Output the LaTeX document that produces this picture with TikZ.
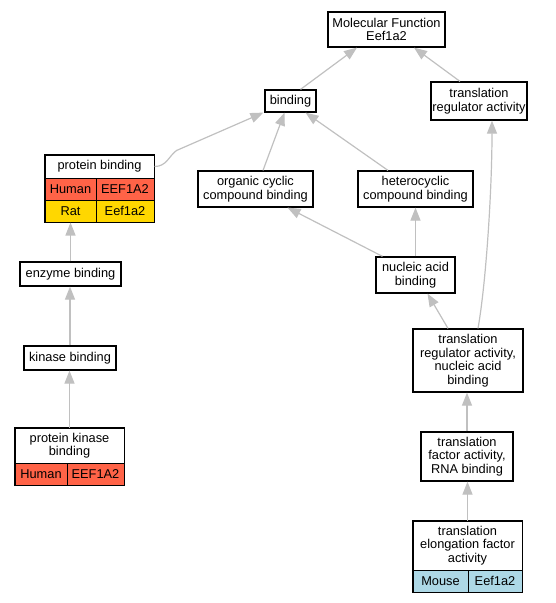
\documentclass[tikz,border=0pt]{standalone}
\usepackage{fontspec}
\setmainfont{Liberation Sans}
\usetikzlibrary{arrows.meta}
\definecolor{edgegray}{RGB}{192,192,192}
\definecolor{human}{RGB}{255,99,71}
\definecolor{rat}{RGB}{255,215,0}
\definecolor{mouse}{RGB}{173,216,230}
\tikzset{
  gobox/.style={draw=black, line width=1.2pt, fill=white, inner sep=0pt, align=center,
    font=\fontsize{12.8}{13.6}\selectfont},
  cell/.style={draw=black, line width=1pt, inner sep=0pt, align=center,
    font=\fontsize{12.8}{13.6}\selectfont},
  edge/.style={draw=edgegray, line width=1.2pt,
    -{Triangle[length=13pt,width=10pt,fill=edgegray]}}
}
\begin{document}
\begin{tikzpicture}[x=1pt,y=-1pt]
\useasboundingbox (0,0) rectangle (555,603);
% plain boxes
\node[gobox, minimum width=117pt, minimum height=35pt] (mf) at (386.5,29.5) {Molecular Function\\Eef1a2};
\node[gobox, minimum width=51pt, minimum height=22pt] (bind) at (290.5,101) {binding};
\node[gobox, minimum width=96pt, minimum height=38pt] (tra) at (479,101) {translation\\regulator activity};
\node[gobox, minimum width=115pt, minimum height=36pt] (ocb) at (255.5,189) {organic cyclic\\compound binding};
\node[gobox, minimum width=115pt, minimum height=36pt] (hcb) at (415.5,189) {heterocyclic\\compound binding};
\node[gobox, minimum width=101pt, minimum height=24pt] (enz) at (70.5,274) {enzyme binding};
\node[gobox, minimum width=79pt, minimum height=36pt] (nab) at (415.5,275) {nucleic acid\\binding};
\node[gobox, minimum width=92pt, minimum height=24pt] (kin) at (70,358) {kinase binding};
\node[gobox, minimum width=110pt, minimum height=63pt] (trnab) at (468,360.5) {translation\\regulator activity,\\nucleic acid\\binding};
\node[gobox, minimum width=92pt, minimum height=49pt] (tfa) at (467,456.5) {translation\\factor activity,\\RNA binding};
% protein binding table
\node[cell, fill=white, minimum width=109pt, minimum height=23pt] (pbHead) at (99.5,166.5) {protein binding};
\node[cell, fill=human, minimum width=51pt, minimum height=22pt] (pbH1) at (70.5,189) {Human};
\node[cell, fill=human, minimum width=58pt, minimum height=22pt] (pbH2) at (125,189) {EEF1A2};
\node[cell, fill=rat, minimum width=51pt, minimum height=22pt] (pbR1) at (70.5,211) {Rat};
\node[cell, fill=rat, minimum width=58pt, minimum height=22pt] (pbR2) at (125,211) {Eef1a2};
\draw[line width=1.2pt] (pbHead.north west) rectangle (pbR2.south east);
% protein kinase binding table
\node[cell, fill=white, minimum width=109pt, minimum height=35pt] (pkHead) at (69.5,445.5) {protein kinase\\binding};
\node[cell, fill=human, minimum width=52pt, minimum height=22pt] (pkH1) at (41,474) {Human};
\node[cell, fill=human, minimum width=57pt, minimum height=22pt] (pkH2) at (95.5,474) {EEF1A2};
\draw[line width=1.2pt] (pkHead.north west) rectangle (pkH2.south east);
% translation elongation factor activity table
\node[cell, fill=white, minimum width=109pt, minimum height=49pt] (teHead) at (467.5,545.5) {translation\\elongation factor\\activity};
\node[cell, fill=mouse, minimum width=55pt, minimum height=22pt] (teM1) at (440.5,581) {Mouse};
\node[cell, fill=mouse, minimum width=54pt, minimum height=22pt] (teM2) at (495,581) {Eef1a2};
\draw[line width=1.2pt] (teHead.north west) rectangle (teM2.south east);
% edges
\draw[edge] ([xshift=10pt]bind.north) -- ([xshift=-29.5pt]mf.south);
\draw[edge] ([xshift=-19pt]tra.north) -- ([xshift=27.5pt]mf.south);
\draw[edge] (pbHead.east) .. controls +(12,0) and +(-8,6) .. ++(22,-16) -- ([xshift=-1pt]bind.south west);
\draw[edge] ([xshift=7.5pt]ocb.north) -- ([xshift=-6pt]bind.south);
\draw[edge] ([xshift=-27.5pt]hcb.north) -- ([xshift=15pt]bind.south);
\draw[edge] ([xshift=10pt]trnab.north) .. controls +(8,-45) and +(0,70) .. ([xshift=13pt]tra.south);
\draw[edge] ([xshift=-33pt]nab.north) -- ([xshift=32pt]ocb.south);
\draw[edge] (nab.north) -- (hcb.south);
\draw[edge] ([xshift=-20pt]trnab.north) -- ([xshift=12pt]nab.south);
\draw[edge] (tfa.north) -- (tfa.north |- trnab.south);
\draw[edge] (teHead.north) -- (teHead.north |- tfa.south);
\draw[edge] (enz.north) -- (enz.north |- pbR1.south);
\draw[edge] (kin.north) -- (kin.north |- enz.south);
\draw[edge] (pkHead.north) -- (pkHead.north |- kin.south);
\end{tikzpicture}
\end{document}
